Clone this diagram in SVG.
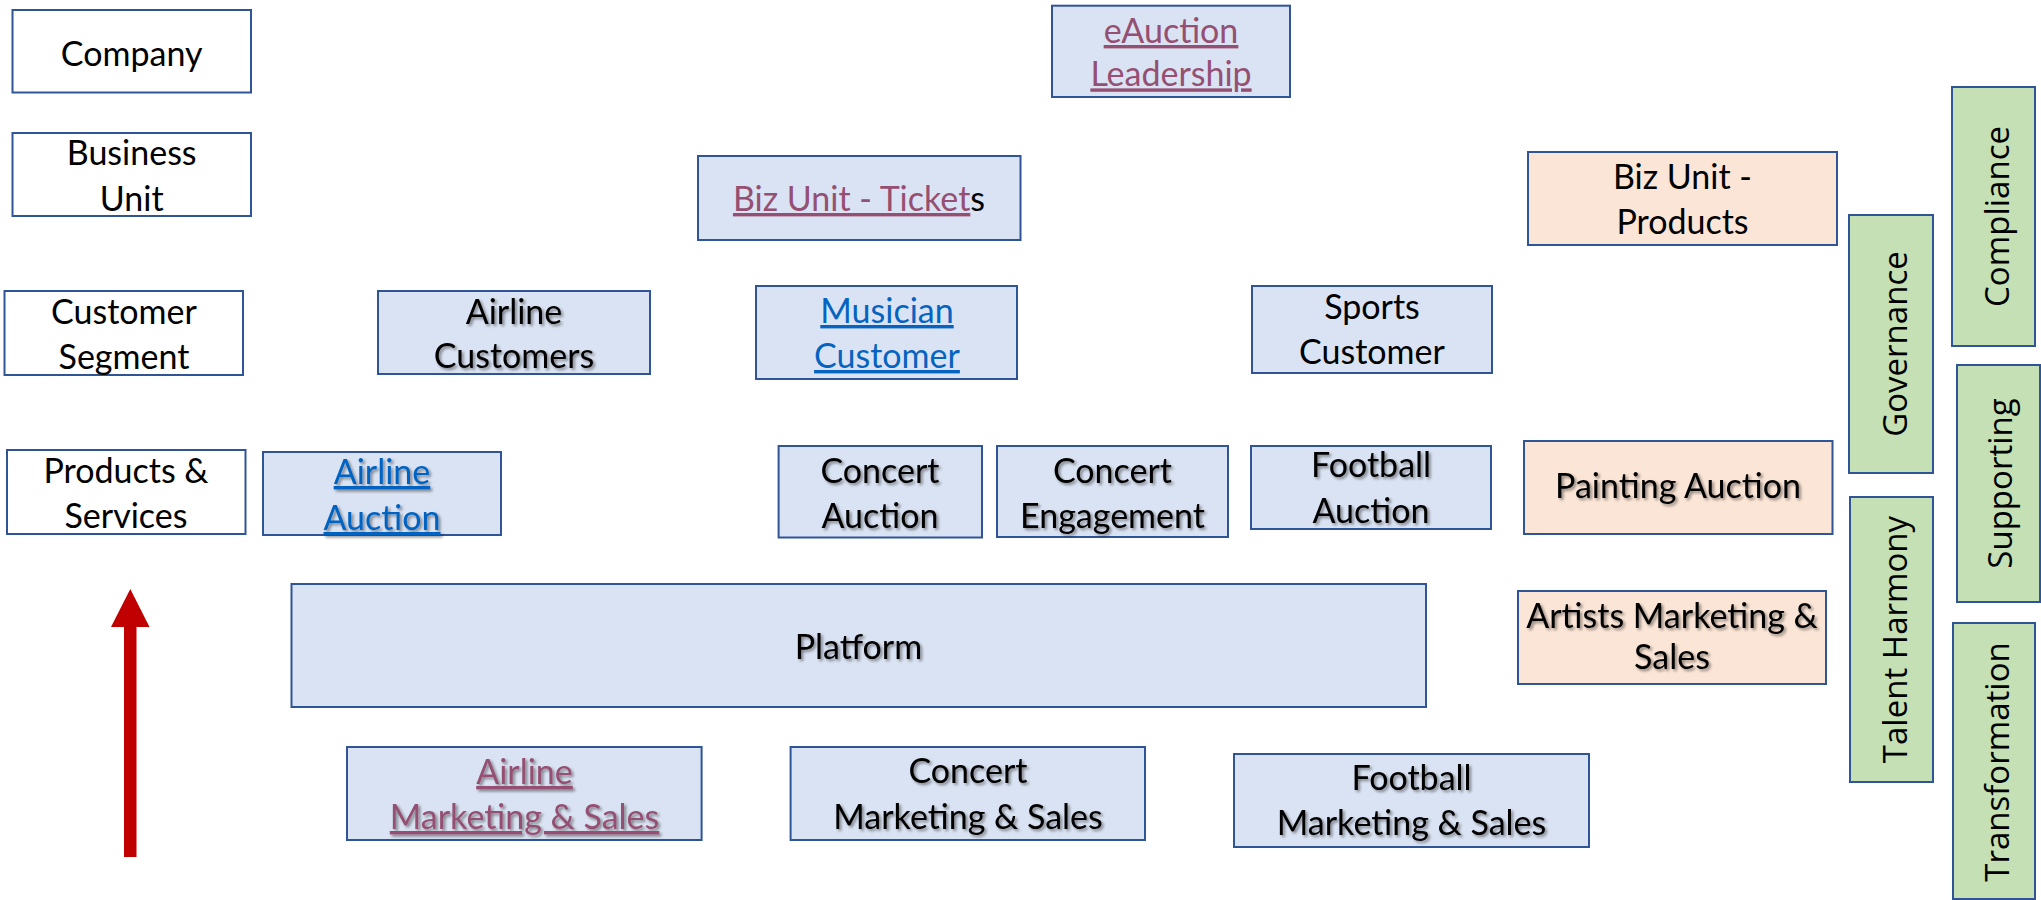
<svg xmlns="http://www.w3.org/2000/svg" width="2041" height="900" viewBox="0 0 2041 900">
  <defs>
    <filter id="soft-shadow" x="-10%" y="-20%" width="130%" height="150%">
      <feGaussianBlur in="SourceAlpha" stdDeviation="1.5"/>
      <feOffset dx="2" dy="2" result="blur"/>
      <feComponentTransfer><feFuncA type="linear" slope="0.45"/></feComponentTransfer>
      <feMerge><feMergeNode/><feMergeNode in="SourceGraphic"/></feMerge>
    </filter>
  </defs>
  <style>
    .box { stroke: #2F5597; stroke-width: 2; }
    .plain { fill: #FFFFFF; }
    .blue { fill: #DAE3F3; }
    .peach { fill: #FBE5D6; }
    .green { fill: #C5E0B4; }
    .t { font-family: Lato, "Liberation Sans", sans-serif; font-size: 34px; fill: #000000; text-anchor: middle; }
    .v { font-family: "Open Sans", "Liberation Sans", sans-serif; font-size: 33px; fill: #000000; text-anchor: middle; }
    .sh { filter: url(#soft-shadow); }
    .visited { fill: #954F72; text-decoration: underline; }
    .link { fill: #0563C1; text-decoration: underline; }
  </style>
  <rect width="2041" height="900" fill="#FFFFFF"/>

  <!-- level labels on the left -->
  <g id="company">
    <rect class="box plain" x="12.5" y="10" width="238.5" height="82.5"/>
    <text class="t" x="131.7" y="66">Company</text>
  </g>
  <g id="business-unit">
    <rect class="box plain" x="12.5" y="133" width="238.5" height="83"/>
    <text class="t" x="131.7" y="165">Business<tspan x="131.7" y="211">Unit</tspan></text>
  </g>
  <g id="customer-segment">
    <rect class="box plain" x="4.5" y="291" width="238.5" height="84"/>
    <text class="t" x="124" y="324">Customer<tspan x="124" y="369">Segment</tspan></text>
  </g>
  <g id="products-services">
    <rect class="box plain" x="7" y="450" width="238.5" height="84"/>
    <text class="t" x="126" y="483">Products &amp;<tspan x="126" y="528">Services</tspan></text>
  </g>

  <!-- company and business units -->
  <g id="eauction-leadership">
    <rect class="box blue" x="1052" y="5.7" width="238" height="91.3"/>
    <text class="t visited" x="1171" y="43">eAuction<tspan x="1171" y="86.4">Leadership</tspan></text>
  </g>
  <g id="biz-unit-tickets">
    <rect class="box blue" x="698" y="156" width="322.5" height="84"/>
    <text class="t" x="859" y="211"><tspan class="visited">Biz Unit - Ticket</tspan>s</text>
  </g>
  <g id="biz-unit-products">
    <rect class="box peach" x="1528" y="152" width="309" height="93"/>
    <text class="t" x="1682.5" y="188.6">Biz Unit -<tspan x="1682.5" y="234">Products</tspan></text>
  </g>

  <!-- customer segments -->
  <g id="airline-customers">
    <rect class="box blue" x="378" y="291" width="272" height="83"/>
    <text class="t sh" x="514" y="324">Airline<tspan x="514" y="368">Customers</tspan></text>
  </g>
  <g id="musician-customer">
    <rect class="box blue" x="756" y="286" width="261" height="93"/>
    <text class="t link" x="887" y="323">Musician<tspan x="887" y="368">Customer</tspan></text>
  </g>
  <g id="sports-customer">
    <rect class="box blue" x="1252" y="286" width="240" height="87"/>
    <text class="t" x="1372" y="319">Sports<tspan x="1372" y="364">Customer</tspan></text>
  </g>

  <!-- products and services -->
  <g id="airline-auction">
    <rect class="box blue" x="263" y="452" width="238" height="83"/>
    <text class="t link sh" x="382" y="484">Airline<tspan x="382" y="530">Auction</tspan></text>
  </g>
  <g id="concert-auction">
    <rect class="box blue" x="778.6" y="446" width="203.4" height="91.5"/>
    <text class="t sh" x="880" y="483">Concert<tspan x="880" y="528">Auction</tspan></text>
  </g>
  <g id="concert-engagement">
    <rect class="box blue" x="997" y="446" width="231" height="91"/>
    <text class="t sh" x="1112.5" y="483">Concert<tspan x="1112.5" y="528">Engagement</tspan></text>
  </g>
  <g id="football-auction">
    <rect class="box blue" x="1251" y="446" width="240" height="83"/>
    <text class="t sh" x="1371" y="477">Football<tspan x="1371" y="523">Auction</tspan></text>
  </g>
  <g id="painting-auction">
    <rect class="box peach" x="1524" y="441" width="308.5" height="93"/>
    <text class="t sh" x="1678" y="498">Painting Auction</text>
  </g>

  <!-- shared platform -->
  <g id="platform">
    <rect class="box blue" x="291.5" y="584" width="1134.5" height="123"/>
    <text class="t sh" x="858.5" y="659">Platform</text>
  </g>
  <g id="artists-marketing-sales">
    <rect class="box peach" x="1518" y="591" width="308" height="93"/>
    <text class="t sh" x="1672" y="628">Artists Marketing &amp;<tspan x="1672" y="669">Sales</tspan></text>
  </g>

  <!-- marketing and sales -->
  <g id="airline-marketing-sales">
    <rect class="box blue" x="347" y="747" width="354.6" height="93"/>
    <text class="t visited sh" x="524.5" y="784">Airline<tspan x="524.5" y="829">Marketing &amp; Sales</tspan></text>
  </g>
  <g id="concert-marketing-sales">
    <rect class="box blue" x="790.6" y="747" width="354.4" height="93"/>
    <text class="t sh" x="968" y="783">Concert<tspan x="968" y="829">Marketing &amp; Sales</tspan></text>
  </g>
  <g id="football-marketing-sales">
    <rect class="box blue" x="1234" y="754" width="355" height="93"/>
    <text class="t sh" x="1411.5" y="790">Football<tspan x="1411.5" y="835">Marketing &amp; Sales</tspan></text>
  </g>

  <!-- cross-cutting functions -->
  <g id="governance">
    <rect class="box green" x="1849" y="215" width="84" height="258"/>
    <text class="v" transform="translate(1907,344) rotate(-90)">Governance</text>
  </g>
  <g id="compliance">
    <rect class="box green" x="1952" y="87" width="83" height="259"/>
    <text class="v" transform="translate(2009,216.5) rotate(-90)">Compliance</text>
  </g>
  <g id="supporting">
    <rect class="box green" x="1957" y="365" width="83" height="237"/>
    <text class="v" transform="translate(2012,483.5) rotate(-90)">Supporting</text>
  </g>
  <g id="talent-harmony">
    <rect class="box green" x="1850" y="497" width="83" height="285"/>
    <text class="v" transform="translate(1907,639.5) rotate(-90)">Talent Harmony</text>
  </g>
  <g id="transformation">
    <rect class="box green" x="1953" y="623" width="82" height="276"/>
    <text class="v" transform="translate(2009,762) rotate(-90)">Transformation</text>
  </g>

  <!-- upward direction arrow -->
  <g id="connectors">
    <rect x="124" y="625" width="12.5" height="232" fill="#C00000"/>
    <polygon points="130.3,589 149.5,627 111,627" fill="#C00000"/>
  </g>
</svg>
